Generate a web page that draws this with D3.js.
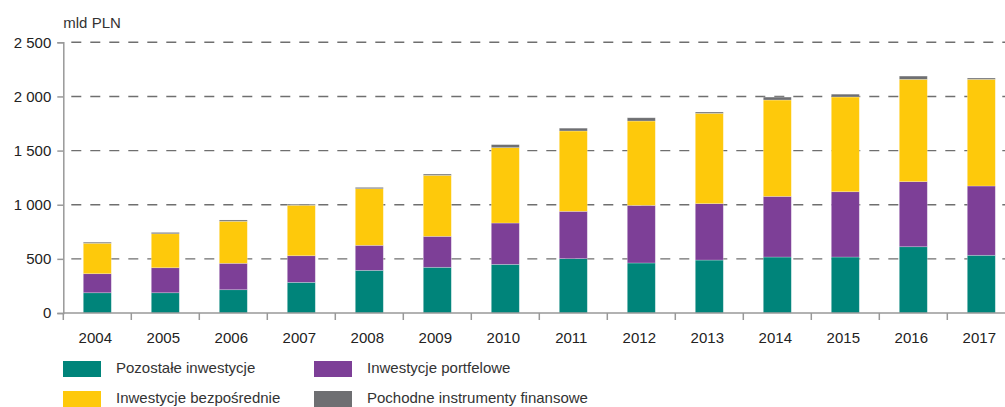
<!DOCTYPE html>
<html>
<head>
<meta charset="utf-8">
<script src="https://cdn.jsdelivr.net/npm/d3@7"></script>
<style>
  body { margin: 0; background: #fff; }
  text { font-family: 'Liberation Sans', Arial, sans-serif; }
</style>
</head>
<body>
<div id="chart-1"></div>
<script>
let years = ['2004', '2005', '2006', '2007', '2008', '2009', '2010', '2011', '2012', '2013', '2014', '2015', '2016', '2017']

// mld PLN
let pozostale = [187, 187, 215, 283, 394, 422, 449, 502, 462, 489, 517, 517, 612, 533]
let portfelowe = [176, 231, 244, 246, 231, 286, 382, 437, 532, 521, 560, 603, 601, 640]
let bezposrednie = [281, 314, 388, 466, 523, 563, 696, 742, 779, 834, 890, 875, 945, 985]
let pochodne = [10, 12, 12, 10, 12, 12, 28, 26, 30, 12, 27, 26, 30, 12]

let yTicks = [0, 500, 1000, 1500, 2000, 2500]
let unitLabel = 'mld PLN'

let seriesNames = ['Pozostałe inwestycje', 'Inwestycje portfelowe', 'Inwestycje bezpośrednie', 'Pochodne instrumenty finansowe']
let seriesColors = ['#00847a', '#7d3f97', '#fec90b', '#6e6f72']

let width = 1005
let height = 407
let margin = { top: 42.3, left: 63.3, bottom: 94 }

let svg = d3
  .select('#chart-1')
  .append('svg')
  .attr('width', width)
  .attr('height', height)

let rows = years.map((year, i) => ({
  year: year,
  s0: pozostale[i],
  s1: portfelowe[i],
  s2: bezposrednie[i],
  s3: pochodne[i]
}))
let stacked = d3.stack().keys(['s0', 's1', 's2', 's3'])(rows)

let step = 68
let x = d3
  .scaleBand()
  .domain(years)
  .range([margin.left, margin.left + step * years.length])
  .padding(0)

let y = d3
  .scaleLinear()
  .domain([0, 2500])
  .range([height - margin.bottom - 0.3 + 0.3, margin.top])

let barWidth = 28
let color = d3.scaleOrdinal().domain(['s0', 's1', 's2', 's3']).range(seriesColors)

let plLocale = d3.formatLocale({ decimal: ',', thousands: '\u00a0', grouping: [3], currency: ['', ' zł'] })
let fmt = plLocale.format(',d')

// dashed gridlines
svg
  .selectAll('.grid')
  .data(yTicks.slice(1))
  .enter()
  .append('line')
  .attr('class', 'grid')
  .attr('x1', margin.left + 8)
  .attr('x2', width)
  .attr('y1', d => y(d))
  .attr('y2', d => y(d))
  .attr('stroke', '#6f6f6f')
  .attr('stroke-width', 1.4)
  .attr('stroke-dasharray', '10,9')

// bars
svg
  .selectAll('.layer')
  .data(stacked)
  .enter()
  .append('g')
  .attr('class', 'layer')
  .attr('fill', d => color(d.key))
  .selectAll('rect')
  .data(d => d)
  .enter()
  .append('rect')
  .attr('x', d => x(d.data.year) + (x.bandwidth() - barWidth) / 2)
  .attr('width', barWidth)
  .attr('y', d => y(d[1]))
  .attr('height', d => y(d[0]) - y(d[1]))
  .attr('stroke', 'rgba(255,255,255,0.35)')
  .attr('stroke-width', 0.7)

// y axis
let yAxis = svg
  .append('g')
  .attr('transform', 'translate(' + margin.left + ',0)')
  .call(d3.axisLeft(y).tickValues(yTicks).tickFormat(fmt).tickSize(6).tickPadding(6))

yAxis.select('.domain').attr('stroke', '#999').attr('stroke-width', 1.5)
yAxis.selectAll('.tick line').attr('stroke', '#999').attr('stroke-width', 1.5)
yAxis.selectAll('.tick text').attr('font-size', 15).attr('fill', '#222')

// x axis: labels centred, ticks on category boundaries
let xAxis = svg
  .append('g')
  .attr('transform', 'translate(0,' + y(0) + ')')
  .call(d3.axisBottom(x).tickSize(0).tickPadding(19))

xAxis.select('.domain').remove()
xAxis.selectAll('.tick text').attr('font-size', 15).attr('fill', '#222').attr('dx', -2)

xAxis
  .append('line')
  .attr('x1', margin.left)
  .attr('x2', width)
  .attr('stroke', '#999')
  .attr('stroke-width', 1.5)

xAxis
  .selectAll('.boundary')
  .data(years)
  .enter()
  .append('line')
  .attr('class', 'boundary')
  .attr('x1', d => x(d))
  .attr('x2', d => x(d))
  .attr('y1', 0)
  .attr('y2', 7)
  .attr('stroke', '#999')
  .attr('stroke-width', 1.5)

// unit label
svg
  .append('text')
  .attr('x', margin.left)
  .attr('y', 28)
  .attr('font-size', 15)
  .attr('fill', '#333')
  .text(unitLabel)

// legend, two columns
let legendOrder = [0, 1, 2, 3]
let legend = svg
  .selectAll('.legend')
  .data(legendOrder)
  .enter()
  .append('g')
  .attr('class', 'legend')
  .attr('transform', d => 'translate(' + (d % 2 === 0 ? 63 : 314) + ',' + (d < 2 ? 361 : 391) + ')')

legend
  .append('rect')
  .attr('width', 38)
  .attr('height', 16)
  .attr('fill', d => seriesColors[d])

legend
  .append('text')
  .attr('x', 53)
  .attr('y', 12)
  .attr('font-size', 15)
  .attr('fill', '#333')
  .text(d => seriesNames[d])
</script>
</body>
</html>
